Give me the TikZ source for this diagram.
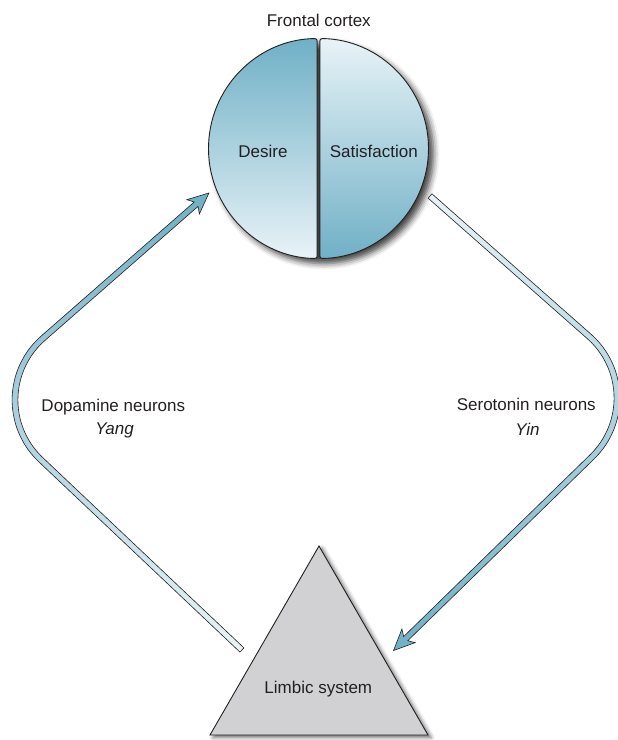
\documentclass[tikz,border=0pt]{standalone}
\usepackage{fontspec}
\setmainfont{Liberation Sans}
\usetikzlibrary{calc,shadows.blur}

\definecolor{ink}{RGB}{35,31,32}
\definecolor{cdark}{RGB}{112,176,198}
\definecolor{clight}{RGB}{232,243,247}
\definecolor{limbic}{RGB}{209,209,211}
\colorlet{cmidL}{cdark!85!clight}
\colorlet{cmidR}{cdark!60!clight}

\begin{document}
\begin{tikzpicture}[x=1pt,y=1pt,
  lbl/.style={font=\fontsize{17}{20}\selectfont, text=ink, inner sep=0pt, anchor=base},
  band/.style={draw=ink, line width=0.6pt, line join=miter},
  discshadow/.style={blur shadow={shadow xshift=5pt, shadow yshift=-5pt,
      shadow blur radius=6pt, shadow opacity=75}},
  softshadow/.style={blur shadow={shadow xshift=3pt, shadow yshift=-2.5pt,
      shadow blur radius=4pt, shadow opacity=60}},
]
\useasboundingbox (0,0) rectangle (618,-740);

% ---- frontal cortex: two half discs ----
\coordinate (fc) at (318.5,-148.5);
\path[discshadow] (fc) circle[radius=110];
\path[draw=ink, line width=0.9pt, top color=cdark, bottom color=clight, rounded corners=2.5pt]
  ($(fc)+(90.68:110)$) arc[start angle=90.68, end angle=269.32, radius=110] -- cycle;
\path[draw=ink, line width=0.9pt, top color=clight, bottom color=cdark, rounded corners=2.5pt]
  ($(fc)+(-89.32:110)$) arc[start angle=-89.32, end angle=89.32, radius=110] -- cycle;

\node[lbl] (fctitle) at (318.8,-26) {Frontal cortex};
\node[lbl] (desire) at (263,-157) {Desire};
\node[lbl] (satis) at (373.8,-157) {Satisfaction};

% ---- limbic system ----
\coordinate (apex) at (319,-546);
\coordinate (bl) at (210,-735);
\coordinate (br) at (428,-735);
\draw[fill=limbic, draw=ink, line width=0.9pt, softshadow] (apex) -- (br) -- (bl) -- cycle;
\node[lbl] (limbic) at (318.3,-693) {Limbic system};

% ---- dopamine pathway (up the left side) ----
% bend centre (lc), radius 82; band half width 2.9
\coordinate (lc) at (97,-400);
\path[band, top color=cdark, middle color=cmidL, bottom color=clight]
 ($(lc)+(226.59:84.9)+(316.59:277.1)$)
 -- ($(lc)+(226.59:84.9)$)
 arc[start angle=226.59, end angle=131.21, radius=84.9]
 -- ($(lc)+(131.21:84.9)+(41.21:203.6)$)
 -- ($(lc)+(131.21:91.5)+(41.21:199.6)$)
 -- ($(lc)+(131.21:82)+(41.21:220.6)$)
 -- ($(lc)+(131.21:72.5)+(41.21:199.6)$)
 -- ($(lc)+(131.21:79.1)+(41.21:203.6)$)
 -- ($(lc)+(131.21:79.1)$)
 arc[start angle=131.21, end angle=226.59, radius=79.1]
 -- ($(lc)+(226.59:79.1)+(316.59:277.1)$)
 -- cycle;

% ---- serotonin pathway (down the right side) ----
\coordinate (rc) at (535,-398);
\path[band, top color=clight, middle color=cmidR, bottom color=cdark]
 ($(rc)+(48.57:84.9)+(138.57:212.4)$)
 -- ($(rc)+(48.57:84.9)$)
 arc[start angle=48.57, end angle=-45.72, radius=84.9]
 -- ($(rc)+(-45.72:84.9)+(224.28:260.6)$)
 -- ($(rc)+(-45.72:91.5)+(224.28:256.6)$)
 -- ($(rc)+(-45.72:82)+(224.28:277.6)$)
 -- ($(rc)+(-45.72:72.5)+(224.28:256.6)$)
 -- ($(rc)+(-45.72:79.1)+(224.28:260.6)$)
 -- ($(rc)+(-45.72:79.1)$)
 arc[start angle=-45.72, end angle=48.57, radius=79.1]
 -- ($(rc)+(48.57:79.1)+(138.57:212.4)$)
 -- cycle;

\node[lbl] (dopa) at (113.3,-411.7) {Dopamine neurons};
\node[lbl, font=\fontsize{17}{20}\selectfont\itshape] (yang) at (114.5,-434.5) {Yang};
\node[lbl] (sero) at (526.3,-410.7) {Serotonin neurons};
\node[lbl, font=\fontsize{17}{20}\selectfont\itshape] (yin) at (527.5,-435) {Yin};
\end{tikzpicture}
\end{document}
